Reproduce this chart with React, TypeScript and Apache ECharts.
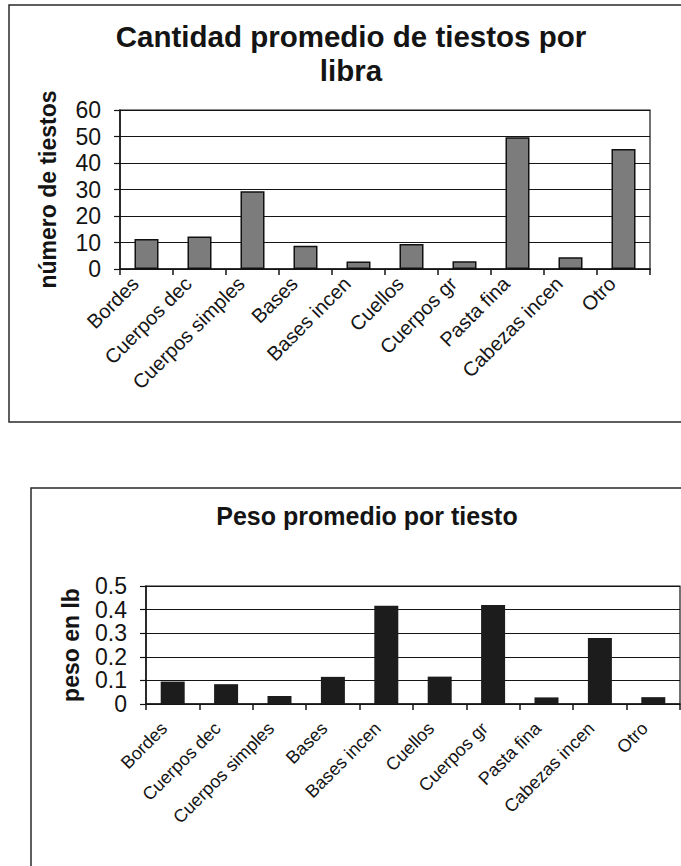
import React, { useEffect, useRef } from "react";
import * as echarts from "echarts";

const categories = [
  "Bordes",
  "Cuerpos dec",
  "Cuerpos simples",
  "Bases",
  "Bases incen",
  "Cuellos",
  "Cuerpos gr",
  "Pasta fina",
  "Cabezas incen",
  "Otro",
];
const tiestosPorLibra = [11.3, 12.3, 29.3, 8.8, 2.8, 9.4, 2.9, 49.7, 4.4, 45.3];
const pesoPorTiesto = [0.095, 0.084, 0.034, 0.115, 0.416, 0.116, 0.419, 0.028, 0.28, 0.029];

const title1 = "Cantidad promedio de tiestos por\nlibra";
const title2 = "Peso promedio por tiesto";
const yName1 = "número de tiestos";
const yName2 = "peso en lb";

const FONT = "'Liberation Sans', Arial, sans-serif";
const INK = "#141414";

export default function App() {
  const ref = useRef<HTMLDivElement>(null);
  useEffect(() => {
    if (!ref.current) return;
    const chart = echarts.init(ref.current, undefined, { renderer: "svg" });
    const xAxisBase = (gridIndex: number, fontSize: number, margin: number, padRight: number) => ({
      type: "category" as const,
      gridIndex,
      data: categories,
      axisLine: { show: true, lineStyle: { color: INK, width: 1.5 } },
      axisTick: { show: true, length: 6, alignWithLabel: false, lineStyle: { color: INK, width: 1.5 } },
      axisLabel: {
        rotate: 45,
        interval: 0,
        fontSize,
        fontFamily: FONT,
        color: INK,
        margin,
        padding: [0, padRight, 0, 0],
      },
      splitLine: { show: false },
    });
    const yAxisBase = (
      gridIndex: number,
      max: number,
      interval: number,
      name: string,
      nameGap: number
    ) => ({
      type: "value" as const,
      gridIndex,
      min: 0,
      max,
      interval,
      name,
      nameLocation: "middle" as const,
      nameGap,
      nameTextStyle: { fontSize: 23, fontWeight: "bold" as const, fontFamily: FONT, color: INK },
      axisLine: { show: true, lineStyle: { color: INK, width: 1.5 } },
      axisTick: { show: true, length: 6, lineStyle: { color: INK, width: 1.2 } },
      axisLabel: { fontSize: 23, fontFamily: FONT, color: INK, margin: 19 },
      splitLine: { show: true, lineStyle: { color: INK, width: 1.2 } },
    });
    chart.setOption({
      animation: false,
      backgroundColor: "#ffffff",
      graphic: [
        {
          type: "rect",
          shape: { x: 9, y: 5, width: 700, height: 417 },
          style: { fill: "none", stroke: "#2a2a2a", lineWidth: 1.5 },
          silent: true,
        },
        {
          type: "rect",
          shape: { x: 31, y: 488, width: 700, height: 420 },
          style: { fill: "none", stroke: "#2a2a2a", lineWidth: 1.5 },
          silent: true,
        },
        {
          type: "text",
          x: 351,
          y: 19,
          style: {
            text: title1,
            fontSize: 29.5,
            fontWeight: "bold",
            fontFamily: FONT,
            fill: INK,
            align: "center",
            lineHeight: 34,
          },
        },
        {
          type: "text",
          x: 367,
          y: 503,
          style: {
            text: title2,
            fontSize: 25,
            fontWeight: "bold",
            fontFamily: FONT,
            fill: INK,
            align: "center",
          },
        },
      ],
      grid: [
        {
          left: 120,
          top: 110,
          width: 530,
          height: 159,
          show: true,
          borderColor: INK,
          borderWidth: 1.2,
          backgroundColor: "transparent",
        },
        {
          left: 146,
          top: 586,
          width: 534,
          height: 118,
          show: true,
          borderColor: INK,
          borderWidth: 1.2,
          backgroundColor: "transparent",
        },
      ],
      xAxis: [xAxisBase(0, 20, 0, 16), xAxisBase(1, 18, 13, 12)],
      yAxis: [yAxisBase(0, 60, 10, yName1, 61), yAxisBase(1, 0.5, 0.1, yName2, 64)],
      series: [
        {
          type: "bar",
          xAxisIndex: 0,
          yAxisIndex: 0,
          data: tiestosPorLibra,
          barWidth: 24,
          itemStyle: { color: "#7c7c7c", borderColor: "#111", borderWidth: 1.5 },
        },
        {
          type: "bar",
          xAxisIndex: 1,
          yAxisIndex: 1,
          data: pesoPorTiesto,
          barWidth: 24,
          itemStyle: { color: "#1c1c1c" },
        },
      ],
    });
    return () => chart.dispose();
  }, []);
  return (
    <div
      ref={ref}
      style={{ position: "absolute", left: 0, top: 0, width: 681, height: 866 }}
    />
  );
}
